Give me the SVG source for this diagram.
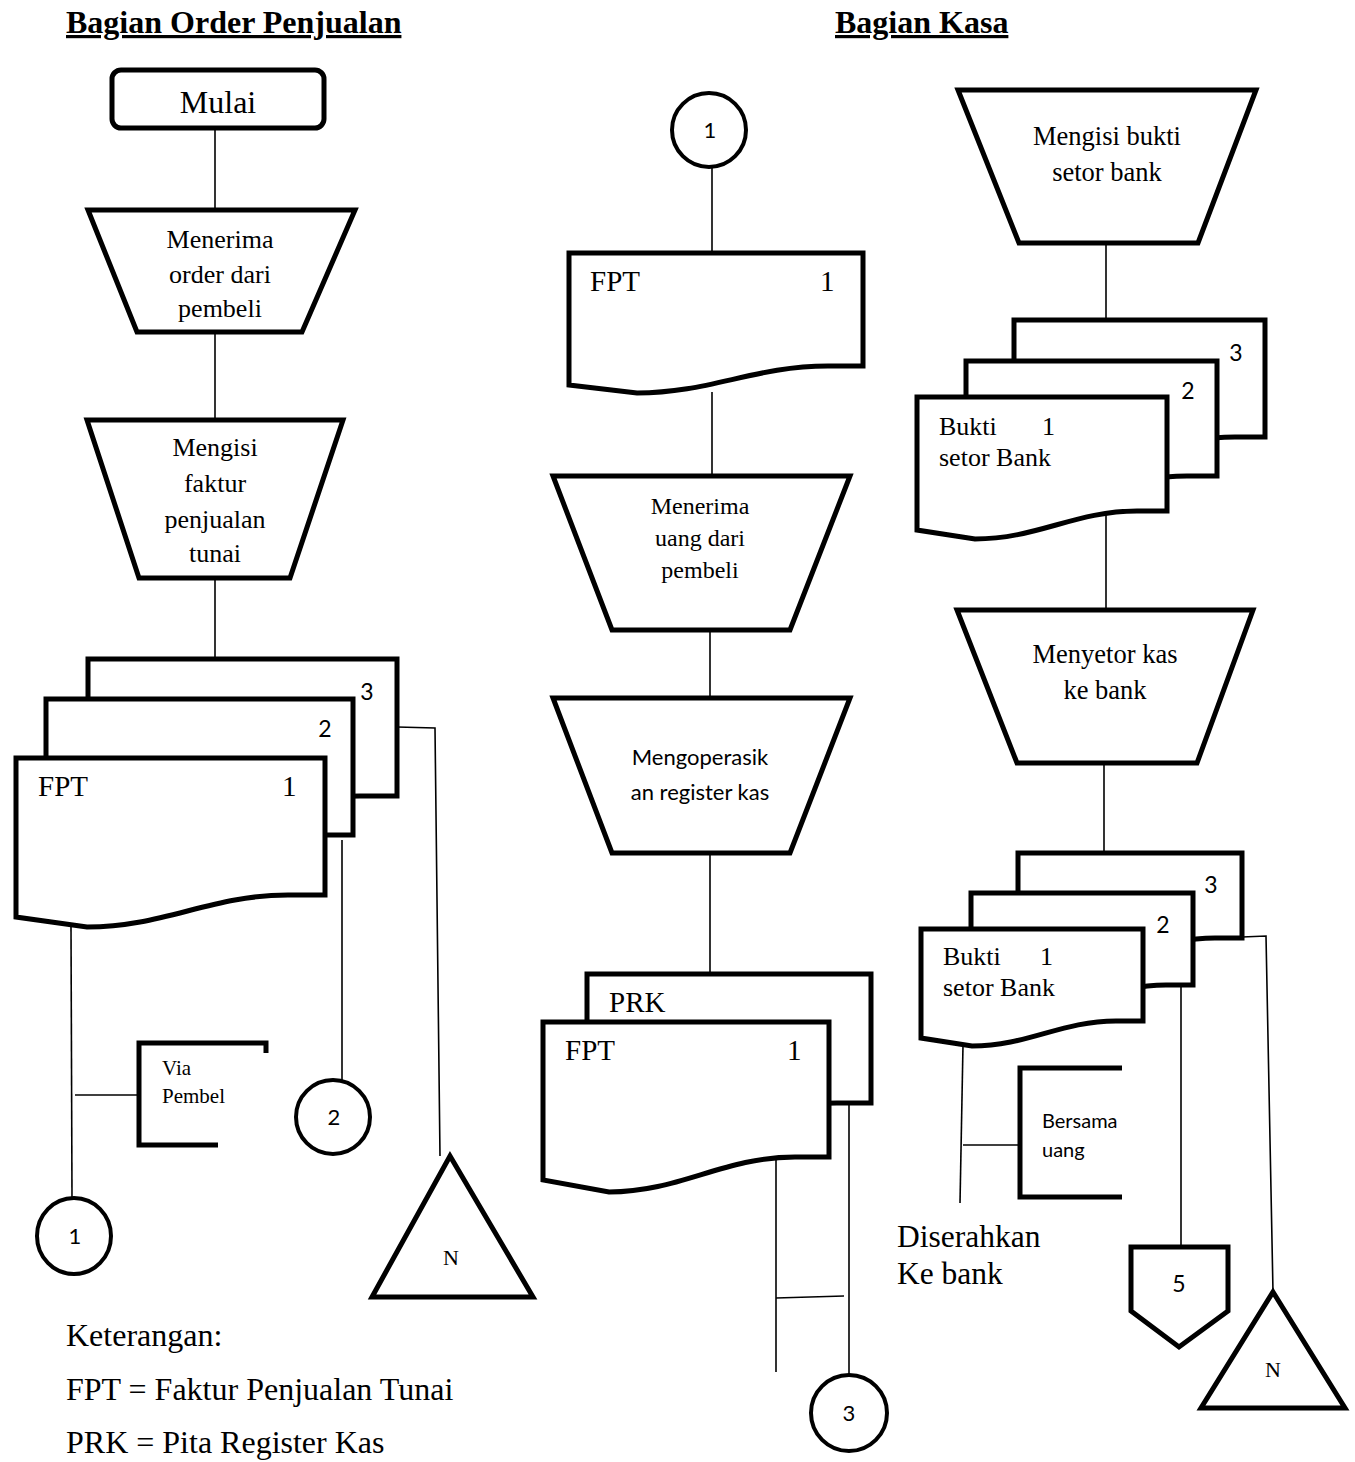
<svg xmlns="http://www.w3.org/2000/svg" width="1355" height="1462" viewBox="0 0 1355 1462">
<style>
.s{fill:#fff;stroke:#000;stroke-width:5;stroke-linejoin:miter}
.c{fill:#fff;stroke:#000;stroke-width:4}
.b{fill:none;stroke:#000;stroke-width:5}
.k{fill:none;stroke:#000;stroke-width:1.6}
text{fill:#000}
.t{font-family:"Liberation Serif","Times New Roman",serif}
.a{font-family:Lato,"Open Sans",sans-serif}
.h{font-family:"Liberation Serif",serif;font-weight:bold;font-size:32px;text-decoration:underline}
.m{text-anchor:middle}
</style>
<rect width="1355" height="1462" fill="#fff"/>
<g id="titles">
<text class="h" x="66" y="33">Bagian Order Penjualan</text>
<text class="h" x="835" y="33">Bagian Kasa</text>
</g>
<g id="connectors">
<line class="k" x1="215" y1="128" x2="215" y2="210"/>
<line class="k" x1="215" y1="332" x2="215" y2="420"/>
<line class="k" x1="215" y1="578" x2="215" y2="659"/>
<line class="k" x1="71" y1="926" x2="72" y2="1198"/>
<line class="k" x1="75" y1="1095" x2="139" y2="1095"/>
<line class="k" x1="342" y1="840" x2="342" y2="1080"/>
<polyline class="k" points="397,727 435,728 440,1156"/>
<line class="k" x1="712" y1="168" x2="712" y2="253"/>
<line class="k" x1="712" y1="392" x2="712" y2="476"/>
<line class="k" x1="710" y1="630" x2="710" y2="698"/>
<line class="k" x1="710" y1="853" x2="710" y2="974"/>
<line class="k" x1="776" y1="1157" x2="776" y2="1372"/>
<line class="k" x1="776" y1="1298" x2="844" y2="1296"/>
<line class="k" x1="849" y1="1104" x2="849" y2="1375"/>
<line class="k" x1="1106" y1="243" x2="1106" y2="320"/>
<line class="k" x1="1106" y1="514" x2="1106" y2="610"/>
<line class="k" x1="1104" y1="763" x2="1104" y2="853"/>
<line class="k" x1="963" y1="1045" x2="960" y2="1203"/>
<line class="k" x1="963" y1="1145" x2="1019" y2="1145"/>
<line class="k" x1="1181" y1="985" x2="1181" y2="1247"/>
<polyline class="k" points="1242,937 1266,936 1273,1292"/>
</g>
<g id="mulai">
<rect class="s" x="112" y="70" width="212" height="58" rx="9"/>
<text class="t m" x="218" y="113" font-size="32">Mulai</text>
</g>
<g id="menerima-order">
<polygon class="s" points="88,210 355,210 302,332 137,332"/>
<text class="t m" font-size="26"><tspan x="220" y="248">Menerima</tspan><tspan x="220" y="283">order dari</tspan><tspan x="220" y="317">pembeli</tspan></text>
</g>
<g id="mengisi-faktur">
<polygon class="s" points="87,420 343,420 290,578 139,578"/>
<text class="t m" font-size="26"><tspan x="215" y="456">Mengisi</tspan><tspan x="215" y="492">faktur</tspan><tspan x="215" y="528">penjualan</tspan><tspan x="215" y="562">tunai</tspan></text>
</g>
<g id="fpt-stack-left">
<path class="s" d="M88,659 H397 V796 H360 C283,796 236,826 159,826 L88,816 Z"/>
<path class="s" d="M46,699 H353 V835 H316 C239,835 193,865 117,865 L46,855 Z"/>
<path class="s" d="M16,758 H325 V895 H288 C211,895 164,927 87,927 L16,917 Z"/>
<text class="a m" x="367" y="700" font-size="23">3</text>
<text class="a m" x="325" y="737" font-size="23">2</text>
<text class="t" x="38" y="796" font-size="29">FPT</text>
<text class="t" x="282" y="796" font-size="29">1</text>
</g>
<g id="via-pembel">
<path class="b" d="M266,1053 V1043 H139 V1145 H218"/>
<text class="t" x="162" y="1075" font-size="21">Via</text>
<text class="t" x="162" y="1103" font-size="21">Pembel</text>
</g>
<g id="conn-1-left">
<ellipse class="c" cx="74" cy="1236" rx="37" ry="38"/>
<text class="a m" x="75" y="1244" font-size="22">1</text>
</g>
<g id="conn-2">
<circle class="c" cx="333" cy="1117" r="37"/>
<text class="a m" x="334" y="1125" font-size="22">2</text>
</g>
<g id="file-n-left">
<polygon class="s" points="450,1156 533,1297 372,1297"/>
<text class="t m" x="451" y="1265" font-size="22">N</text>
</g>
<g id="conn-1-mid">
<circle class="c" cx="709" cy="130" r="37"/>
<text class="a m" x="710" y="138" font-size="22">1</text>
</g>
<g id="fpt-mid">
<path class="s" d="M569,253 H863 V366 H828 C754,366 710,393 637,393 L569,385 Z"/>
<text class="t" x="590" y="291" font-size="29">FPT</text>
<text class="t" x="820" y="291" font-size="29">1</text>
</g>
<g id="menerima-uang">
<polygon class="s" points="553,476 850,476 790,630 612,630"/>
<text class="t m" font-size="24"><tspan x="700" y="514">Menerima</tspan><tspan x="700" y="546">uang dari</tspan><tspan x="700" y="578">pembeli</tspan></text>
</g>
<g id="mengoperasikan">
<polygon class="s" points="553,698 850,698 790,853 612,853"/>
<text class="a m" font-size="22"><tspan x="700" y="765">Mengoperasik</tspan><tspan x="700" y="800">an register kas</tspan></text>
</g>
<g id="prk-fpt-stack">
<path class="s" d="M587,974 H871 V1103 H837 C766,1103 723,1133 652,1133 L587,1123 Z"/>
<path class="s" d="M543,1022 H829 V1157 H795 C723,1157 680,1192 609,1192 L543,1180 Z"/>
<text class="t" x="609" y="1012" font-size="29">PRK</text>
<text class="t" x="565" y="1060" font-size="29">FPT</text>
<text class="t" x="787" y="1060" font-size="29">1</text>
</g>
<g id="conn-3">
<circle class="c" cx="849" cy="1413" r="38"/>
<text class="a m" x="849" y="1421" font-size="22">3</text>
</g>
<g id="mengisi-bukti">
<polygon class="s" points="958,90 1256,90 1198,243 1019,243"/>
<text class="t m" font-size="26.5"><tspan x="1107" y="145">Mengisi bukti</tspan><tspan x="1107" y="181">setor bank</tspan></text>
</g>
<g id="bukti-stack-top">
<path class="s" d="M1014,320 H1265 V437 H1235 C1172,437 1134,465 1072,465 L1014,456 Z"/>
<path class="s" d="M966,361 H1217 V476 H1187 C1124,476 1086,504 1024,504 L966,495 Z"/>
<path class="s" d="M917,397 H1167 V511 H1137 C1075,511 1037,539 975,539 L917,530 Z"/>
<text class="a m" x="1236" y="361" font-size="23">3</text>
<text class="a m" x="1188" y="399" font-size="23">2</text>
<text class="t" x="939" y="435" font-size="26">Bukti</text>
<text class="t" x="1042" y="435" font-size="26">1</text>
<text class="t" x="939" y="466" font-size="26">setor Bank</text>
</g>
<g id="menyetor-kas">
<polygon class="s" points="957,610 1253,610 1197,763 1017,763"/>
<text class="t m" font-size="26.5"><tspan x="1105" y="663">Menyetor kas</tspan><tspan x="1105" y="699">ke bank</tspan></text>
</g>
<g id="bukti-stack-bottom">
<path class="s" d="M1018,853 H1242 V938 H1215 C1159,938 1126,963 1070,963 L1018,955 Z"/>
<path class="s" d="M971,893 H1193 V985 H1166 C1111,985 1078,1010 1022,1010 L971,1002 Z"/>
<path class="s" d="M921,929 H1143 V1021 H1116 C1061,1021 1028,1046 972,1046 L921,1038 Z"/>
<text class="a m" x="1211" y="893" font-size="23">3</text>
<text class="a m" x="1163" y="933" font-size="23">2</text>
<text class="t" x="943" y="965" font-size="26">Bukti</text>
<text class="t" x="1040" y="965" font-size="26">1</text>
<text class="t" x="943" y="996" font-size="26">setor Bank</text>
</g>
<g id="bersama-uang">
<path class="b" d="M1122,1068 H1020 V1197 H1122"/>
<text class="a" x="1042" y="1128" font-size="20">Bersama</text>
<text class="a" x="1042" y="1157" font-size="20">uang</text>
</g>
<g id="diserahkan">
<text class="t" x="897" y="1247" font-size="31.5">Diserahkan</text>
<text class="t" x="897" y="1284" font-size="31.5">Ke bank</text>
</g>
<g id="offpage-5">
<polygon class="s" points="1131,1247 1228,1247 1228,1311 1179,1347 1131,1311"/>
<text class="a m" x="1179" y="1292" font-size="23">5</text>
</g>
<g id="file-n-right">
<polygon class="s" points="1273,1292 1345,1408 1201,1408"/>
<text class="t m" x="1273" y="1377" font-size="22">N</text>
</g>
<g id="keterangan">
<text class="t" x="66" y="1346" font-size="32">Keterangan:</text>
<text class="t" x="66" y="1400" font-size="32">FPT = Faktur Penjualan Tunai</text>
<text class="t" x="66" y="1453" font-size="32">PRK = Pita Register Kas</text>
</g>
</svg>
